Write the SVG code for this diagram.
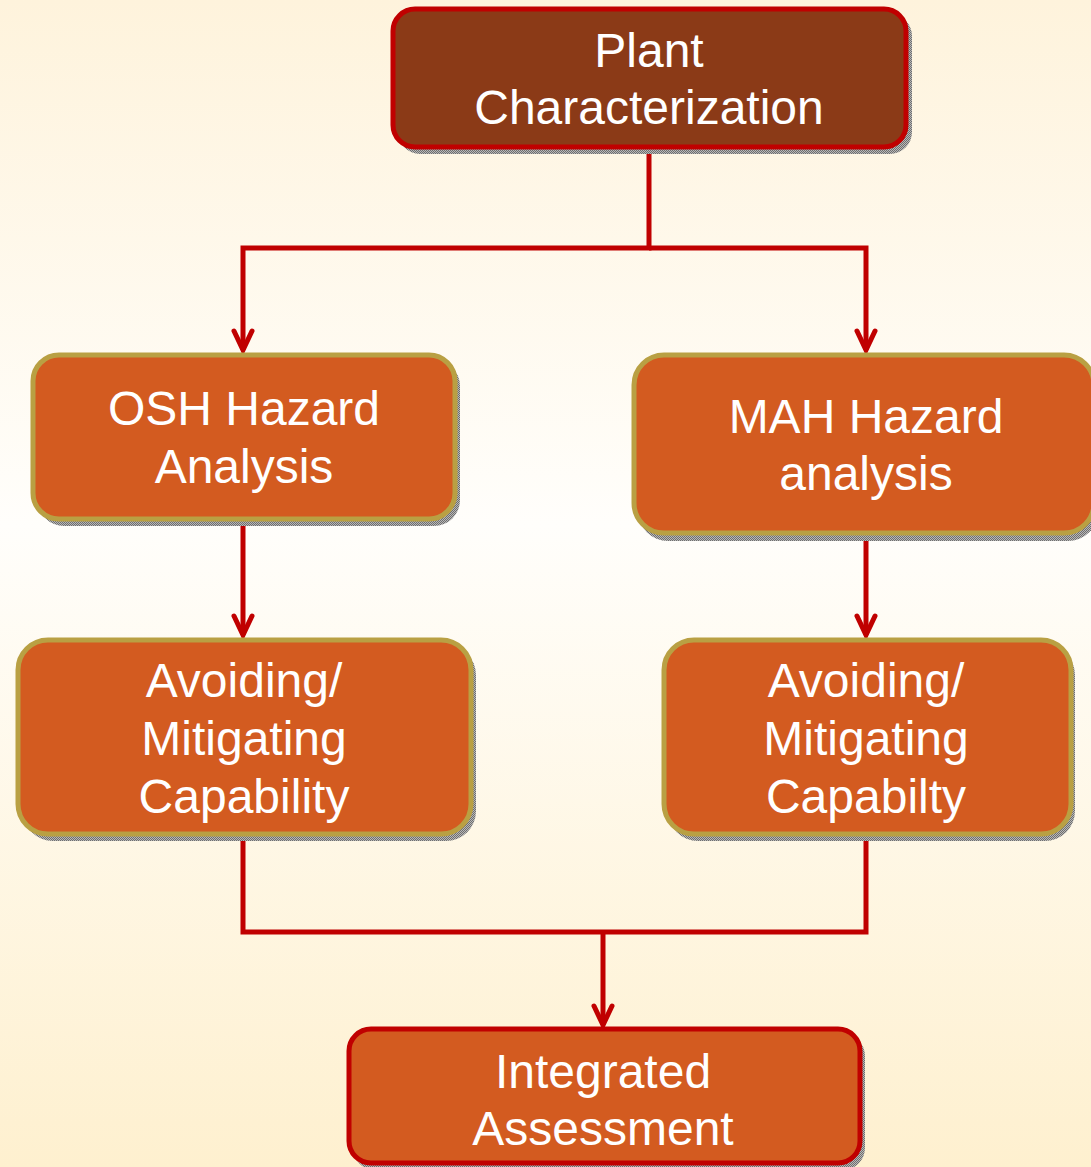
<svg xmlns="http://www.w3.org/2000/svg" width="1091" height="1167" viewBox="0 0 1091 1167">
  <defs>
    <linearGradient id="bg" x1="0" y1="0" x2="0" y2="1">
      <stop offset="0" stop-color="#FEF3DC"/>
      <stop offset="0.45" stop-color="#FFFEFB"/>
      <stop offset="1" stop-color="#FEF0CF"/>
    </linearGradient>
    <pattern id="dither" width="2" height="2" patternUnits="userSpaceOnUse">
      <rect width="2" height="2" fill="#b8b8b8"/>
      <rect width="1" height="1" fill="#6e6e6e"/>
      <rect x="1" y="1" width="1" height="1" fill="#6e6e6e"/>
    </pattern>
    <marker id="head" viewBox="-24 -12 28 24" markerWidth="28" markerHeight="24" refX="0" refY="0" orient="auto" markerUnits="userSpaceOnUse">
      <path d="M-19 -9 L0 0 L-19 9" fill="none" stroke="#C00000" stroke-width="5" stroke-linecap="round" stroke-linejoin="miter"/>
    </marker>
  </defs>
  <style>
    .shadow { fill: url(#dither); }
    .box { fill: #D35B20; stroke: #B9A043; stroke-width: 5; }
    .boxred { fill: #D35B20; stroke: #C00000; stroke-width: 5; }
    .top { fill: #8B3A17; stroke: #C00000; stroke-width: 5; }
    .lbl { font-family: "Liberation Sans", Arial, sans-serif; font-size: 48px; fill: #FFFFFF; text-anchor: middle; }
    .wire { fill: none; stroke: #C00000; stroke-width: 5; }
  </style>

  <rect width="1091" height="1167" fill="url(#bg)"/>

  <!-- connectors -->
  <g id="connectors">
    <path class="wire" d="M649 148 V248 H243 V350" marker-end="url(#head)"/>
    <path class="wire" d="M649 248 H866 V350" marker-end="url(#head)"/>
    <path class="wire" d="M243 520 V635" marker-end="url(#head)"/>
    <path class="wire" d="M866 535 V635" marker-end="url(#head)"/>
    <path class="wire" d="M243 835 V932 H866 V835"/>
    <path class="wire" d="M603 932 V1025" marker-end="url(#head)"/>
  </g>

  <!-- Plant Characterization -->
  <g id="plant">
    <rect class="shadow" x="398" y="14" width="514" height="140" rx="22"/>
    <rect class="top" x="393" y="9" width="513" height="138" rx="22"/>
    <text class="lbl" x="649" y="67">Plant</text>
    <text class="lbl" x="649" y="124">Characterization</text>
  </g>

  <!-- OSH Hazard Analysis -->
  <g id="osh">
    <rect class="shadow" x="38" y="360" width="422" height="166" rx="26"/>
    <rect class="box" x="33" y="355" width="422" height="164" rx="26"/>
    <text class="lbl" x="244" y="425">OSH Hazard</text>
    <text class="lbl" x="244" y="483">Analysis</text>
  </g>

  <!-- MAH Hazard analysis -->
  <g id="mah">
    <rect class="shadow" x="638" y="360" width="460" height="181" rx="30"/>
    <rect class="box" x="634" y="355" width="460" height="178" rx="30"/>
    <text class="lbl" x="866" y="433">MAH Hazard</text>
    <text class="lbl" x="866" y="490">analysis</text>
  </g>

  <!-- Avoiding / Mitigating, left -->
  <g id="avoid-osh">
    <rect class="shadow" x="23" y="645" width="453" height="196" rx="30"/>
    <rect class="box" x="18" y="640" width="453" height="194" rx="30"/>
    <text class="lbl" x="244" y="697">Avoiding/</text>
    <text class="lbl" x="244" y="755">Mitigating</text>
    <text class="lbl" x="244" y="813">Capability</text>
  </g>

  <!-- Avoiding / Mitigating, right -->
  <g id="avoid-mah">
    <rect class="shadow" x="668" y="645" width="407" height="196" rx="30"/>
    <rect class="box" x="664" y="640" width="407" height="194" rx="30"/>
    <text class="lbl" x="866" y="697">Avoiding/</text>
    <text class="lbl" x="866" y="755">Mitigating</text>
    <text class="lbl" x="866" y="813">Capabilty</text>
  </g>

  <!-- Integrated Assessment -->
  <g id="integrated">
    <rect class="shadow" x="353" y="1034" width="512" height="136" rx="22"/>
    <rect class="boxred" x="349" y="1029" width="511" height="134" rx="22"/>
    <text class="lbl" x="603" y="1088">Integrated</text>
    <text class="lbl" x="603" y="1145">Assessment</text>
  </g>
</svg>
